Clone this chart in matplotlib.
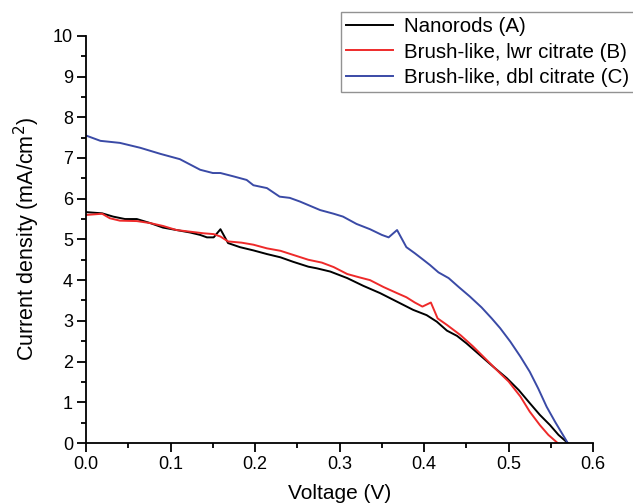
import matplotlib
matplotlib.use("Agg")
import matplotlib.pyplot as plt
from matplotlib.ticker import MultipleLocator

plt.rcParams["font.family"] = ["Liberation Sans", "DejaVu Sans"]

# ── Data ──────────────────────────────────────────────────────────────────────

v_a = [0.0, 0.019, 0.032, 0.046, 0.060, 0.076, 0.091, 0.107, 0.123, 0.135, 0.143,
       0.151, 0.159, 0.168, 0.182, 0.198, 0.214, 0.230, 0.245, 0.263, 0.273, 0.289,
       0.309, 0.328, 0.348, 0.368, 0.387, 0.403, 0.415, 0.427, 0.439, 0.450, 0.466,
       0.482, 0.498, 0.512, 0.525, 0.537, 0.549, 0.559, 0.570]
j_a = [5.67, 5.64, 5.56, 5.50, 5.50, 5.40, 5.29, 5.23, 5.17, 5.11, 5.05,
       5.05, 5.25, 4.91, 4.81, 4.73, 4.64, 4.56, 4.45, 4.33, 4.29, 4.21,
       4.05, 3.86, 3.68, 3.47, 3.27, 3.14, 2.98, 2.76, 2.63, 2.45, 2.16,
       1.87, 1.59, 1.30, 0.98, 0.69, 0.44, 0.20, 0.0]

v_b = [0.0, 0.019, 0.028, 0.040, 0.060, 0.076, 0.091, 0.107, 0.123, 0.139, 0.151,
       0.159, 0.168, 0.184, 0.198, 0.214, 0.230, 0.245, 0.263, 0.279, 0.293, 0.309,
       0.323, 0.336, 0.352, 0.368, 0.379, 0.389, 0.398, 0.408, 0.416, 0.427, 0.443,
       0.458, 0.474, 0.490, 0.500, 0.514, 0.525, 0.537, 0.547, 0.558]
j_b = [5.60, 5.63, 5.52, 5.46, 5.45, 5.40, 5.33, 5.23, 5.19, 5.15, 5.13,
       5.07, 4.95, 4.92, 4.87, 4.78, 4.72, 4.62, 4.50, 4.43, 4.32, 4.15,
       4.07, 4.00, 3.83, 3.68, 3.58, 3.45, 3.35, 3.45, 3.06, 2.90, 2.65,
       2.37, 2.04, 1.71, 1.51, 1.14, 0.77, 0.44, 0.20, 0.0]

v_c = [0.0, 0.017, 0.040, 0.064, 0.088, 0.111, 0.135, 0.150, 0.159, 0.174, 0.190,
       0.198, 0.214, 0.229, 0.241, 0.253, 0.277, 0.293, 0.304, 0.320, 0.336, 0.350,
       0.358, 0.368, 0.379, 0.389, 0.399, 0.407, 0.417, 0.429, 0.441, 0.454, 0.468,
       0.480, 0.490, 0.502, 0.514, 0.525, 0.535, 0.545, 0.555, 0.570]
j_c = [7.55, 7.42, 7.37, 7.25, 7.10, 6.97, 6.71, 6.63, 6.63, 6.55, 6.46,
       6.33, 6.26, 6.05, 6.02, 5.93, 5.72, 5.63, 5.56, 5.38, 5.25, 5.11,
       5.05, 5.23, 4.81, 4.66, 4.50, 4.37, 4.19, 4.05, 3.83, 3.60, 3.33,
       3.06, 2.82, 2.49, 2.12, 1.75, 1.34, 0.89, 0.52, 0.0]

labels = ["Nanorods (A)", "Brush-like, lwr citrate (B)", "Brush-like, dbl citrate (C)"]
colors = ["#000000", "#ee2a2a", "#3a4aa6"]

# ── Figure ────────────────────────────────────────────────────────────────────

fig = plt.figure(figsize=(6.33, 5.04), dpi=100)
ax = fig.add_axes([0.136, 0.121, 0.801, 0.808])

for v, j, lab, c in zip([v_a, v_b, v_c], [j_a, j_b, j_c], labels, colors):
    ax.plot(v, j, color=c, lw=1.4, label=lab)

ax.set_xlim(0, 0.6)
ax.set_ylim(0, 10)
ax.xaxis.set_major_locator(MultipleLocator(0.1))
ax.xaxis.set_minor_locator(MultipleLocator(0.05))
ax.yaxis.set_major_locator(MultipleLocator(1))
ax.yaxis.set_minor_locator(MultipleLocator(0.5))
ax.xaxis.set_major_formatter(matplotlib.ticker.FormatStrFormatter("%.1f"))

for side in ("top", "right"):
    ax.spines[side].set_visible(False)
for side in ("left", "bottom"):
    ax.spines[side].set_linewidth(1.3)

ax.tick_params(which="major", direction="out", length=6.5, width=1.3,
               labelsize=13, pad=3)
ax.tick_params(which="minor", direction="out", length=3.5, width=1.3)

ax.set_xlabel("Voltage (V)", fontsize=15, labelpad=8)
ax.set_ylabel("Current density (mA/cm$^2$)", fontsize=15.5, labelpad=8)

leg = ax.legend(loc="upper right", bbox_to_anchor=(1.003, 0.977),
                bbox_transform=fig.transFigure, fontsize=14.8, frameon=True,
                fancybox=False, edgecolor="#777777", handlelength=2.3,
                handletextpad=0.55, labelspacing=0.32, borderpad=0.26,
                borderaxespad=0)
leg.get_frame().set_linewidth(1.0)

fig.savefig("out.png", dpi=100)
